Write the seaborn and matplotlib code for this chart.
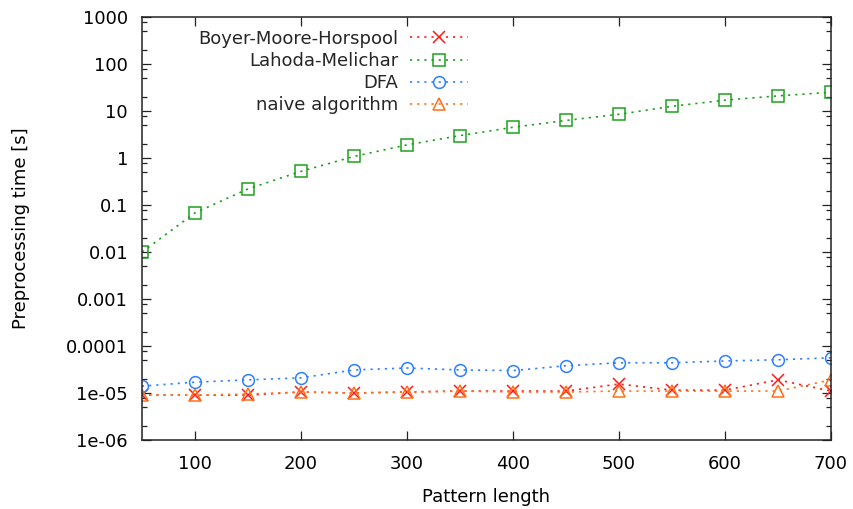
import matplotlib
matplotlib.use("Agg")
import matplotlib.pyplot as plt
from matplotlib.ticker import FixedLocator, NullFormatter
import seaborn as sns
import pandas as pd

lengths = [50, 100, 150, 200, 250, 300, 350, 400, 450, 500, 550, 600, 650, 700]

bmh = [9e-6, 9e-6, 9e-6, 1.05e-5, 1.0e-5, 1.05e-5, 1.1e-5, 1.1e-5, 1.1e-5,
       1.55e-5, 1.15e-5, 1.15e-5, 1.9e-5, 1.1e-5]
lahoda = [0.01, 0.068, 0.22, 0.52, 1.08, 1.9, 3.0, 4.5, 6.3, 8.5, 12.6, 17, 21, 25]
dfa = [1.4e-5, 1.7e-5, 1.9e-5, 2.1e-5, 3.1e-5, 3.4e-5, 3.1e-5, 3.0e-5, 3.8e-5,
       4.4e-5, 4.4e-5, 4.8e-5, 5.1e-5, 5.6e-5]
naive = [9e-6, 9e-6, 9.5e-6, 1.05e-5, 1.0e-5, 1.05e-5, 1.1e-5, 1.05e-5, 1.05e-5,
         1.1e-5, 1.1e-5, 1.1e-5, 1.1e-5, 1.9e-5]

names = ["Boyer-Moore-Horspool", "Lahoda-Melichar", "DFA", "naive algorithm"]
series = [bmh, lahoda, dfa, naive]

y_ticks = [1e-6, 1e-5, 1e-4, 1e-3, 1e-2, 1e-1, 1, 10, 100, 1000]
y_labels = ["1e-06", "1e-05", "0.0001", "0.001", "0.01", "0.1", "1", "10", "100", "1000"]
x_ticks = [100, 200, 300, 400, 500, 600, 700]

df = pd.DataFrame({
    "Pattern length": lengths * len(names),
    "time": [v for s in series for v in s],
    "Algorithm": [n for n in names for _ in lengths],
})

sns.set_theme(style="ticks")
plt.rcParams["font.family"] = ["DejaVu Sans"]

colors = {"Boyer-Moore-Horspool": "#ff1a1a", "Lahoda-Melichar": "#1ea01e",
          "DFA": "#2f80ff", "naive algorithm": "#ff7018"}
markers = {"Boyer-Moore-Horspool": "x", "Lahoda-Melichar": "s",
           "DFA": "o", "naive algorithm": "^"}
msizes = {"Boyer-Moore-Horspool": 9, "Lahoda-Melichar": 8,
          "DFA": 8.5, "naive algorithm": 8}

fig = plt.figure(figsize=(8.54, 5.09), dpi=100)
ax = fig.add_axes([142 / 854, 69 / 509, 689 / 854, 423 / 509])

for name in names:
    sub = df[df["Algorithm"] == name]
    c = colors[name]
    sns.lineplot(
        data=sub, x="Pattern length", y="time", ax=ax,
        color=c, marker=markers[name], markersize=msizes[name],
        markerfacecolor="none", markeredgecolor=c, markeredgewidth=1.1,
        linestyle=(0, (1.3, 3)), linewidth=1.2, label=name,
    )

ax.set_yscale("log")
ax.set_ylim(1e-6, 1000)
ax.set_xlim(50, 700)
ax.yaxis.set_major_locator(FixedLocator(y_ticks))
ax.set_yticklabels(y_labels)
minor = [m * 10.0 ** e for e in range(-6, 3) for m in (2, 5, 8)]
ax.yaxis.set_minor_locator(FixedLocator(minor))
ax.yaxis.set_minor_formatter(NullFormatter())
ax.xaxis.set_major_locator(FixedLocator(x_ticks))
ax.xaxis.set_minor_locator(FixedLocator([]))

ax.tick_params(which="both", direction="in", top=True, right=True,
               color="#222222", labelsize=13, labelcolor="black")
ax.tick_params(which="major", length=6.5, width=0.9)
ax.tick_params(which="minor", length=3.3, width=0.9)
ax.tick_params(axis="y", pad=10)
ax.tick_params(axis="x", pad=10.5)
for sp in ax.spines.values():
    sp.set_color("#222222")
    sp.set_linewidth(1.1)

ax.set_xlabel("Pattern length", fontsize=13, color="black", labelpad=11)
ax.set_ylabel("Preprocessing time [s]", fontsize=13, color="black", labelpad=26)

leg = ax.legend(loc="upper right", bbox_to_anchor=(0.473, 0.970), frameon=False,
                markerfirst=False, fontsize=13, handlelength=3.2,
                handletextpad=0.65, labelspacing=0.23, numpoints=1,
                borderaxespad=0, borderpad=0)

fig.savefig("out.png", dpi=100)
